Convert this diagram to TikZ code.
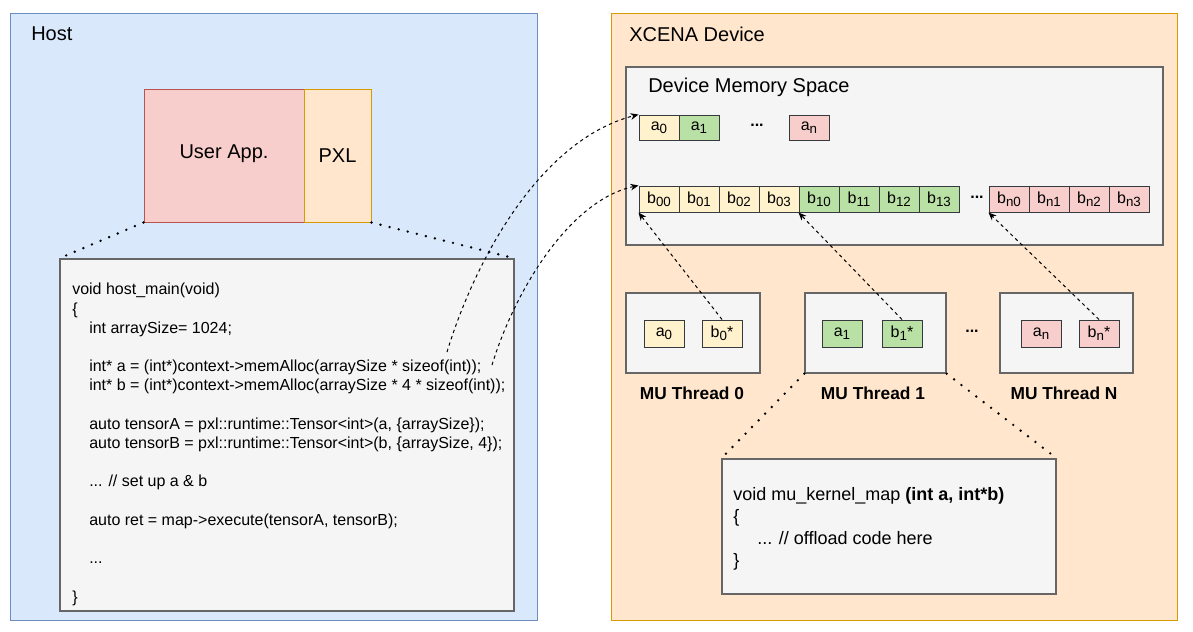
\documentclass[tikz,border=0pt]{standalone}
\usepackage{fontspec}
\setmainfont{Liberation Sans}
\usepackage{tikz}
\usetikzlibrary{arrows.meta}
\definecolor{hostfill}{HTML}{DAE8FC}
\definecolor{hostline}{HTML}{6C8EBF}
\definecolor{devfill}{HTML}{FFE6CC}
\definecolor{devline}{HTML}{D79B00}
\definecolor{appfill}{HTML}{F8CECC}
\definecolor{appline}{HTML}{B85450}
\definecolor{grayfill}{HTML}{F5F5F5}
\definecolor{grayline}{HTML}{666666}
\definecolor{cellyellow}{HTML}{FFF2CC}
\definecolor{cellgreen}{HTML}{B9E0A5}
\definecolor{cellred}{HTML}{F8CECC}
\definecolor{cellline}{HTML}{36393D}
\newcommand{\cellsub}[1]{\raisebox{-2.5pt}{\fontsize{10}{12}\selectfont #1}}
\tikzstyle{hostbox} = [draw=hostline, fill=hostfill, rectangle, line width=0.75pt]
\tikzstyle{devbox} = [draw=devline, fill=devfill, rectangle, line width=0.75pt]
\tikzstyle{appbox} = [draw=appline, fill=appfill, rectangle, line width=0.75pt]
\tikzstyle{graybox} = [draw=grayline, fill=grayfill, rectangle, line width=1pt]
\tikzstyle{cell} = [draw=cellline, rectangle, line width=0.75pt, minimum width=30pt, minimum height=19.5pt, inner sep=0pt, font=\fontsize{12}{14}\selectfont]
\tikzstyle{title} = [anchor=west, inner sep=0pt]
\tikzstyle{codetext} = [anchor=north west, inner sep=0pt, align=left, font=\fontsize{12}{14.4}\selectfont]
\tikzstyle{kerneltext} = [anchor=north west, inner sep=0pt, align=left, font=\fontsize{13.5}{16.5}\selectfont]
\tikzstyle{thrlabel} = [inner sep=0pt, font=\bfseries\fontsize{13}{15}\selectfont]
\tikzstyle{dots} = [inner sep=0pt, font=\bfseries\fontsize{12}{14}\selectfont]
\tikzstyle{dotline} = [line width=2pt, dash pattern=on 0pt off 7pt, line cap=round]
\tikzstyle{dashline} = [line width=0.75pt, dash pattern=on 2.5pt off 2.5pt, -{Stealth[length=6pt,width=5pt]}]

\begin{document}
\begin{tikzpicture}[x=0.75pt, y=0.75pt, font=\fontsize{15}{18}\selectfont]
    \useasboundingbox (0,0) rectangle (1193,-632);
    \node [hostbox, minimum width=395.25pt, minimum height=455.25pt] (host) at (273.5,-316.5) {};
    \node [devbox, minimum width=424.5pt, minimum height=455.25pt] (device) at (894,-316.5) {};
    \node [title] (hostlabel) at (31,-34) {Host};
    \node [title] (devlabel) at (629,-34) {XCENA Device};

    \node [appbox, minimum width=120pt, minimum height=99.75pt] (userapp) at (224,-155.5) {\raisebox{6.5pt}{User App.}};
    \node [devbox, minimum width=50.25pt, minimum height=99.75pt] (pxl) at (337.5,-155.5) {PXL};

    \node [graybox, minimum width=340.5pt, minimum height=264pt] (hostcode) at (287,-435) {};
    \node [codetext] (hosttext) at (72,-283) {%
        void host\_main(void)\\
        \{\\
        \hspace*{12.75pt}int arraySize= 1024;\\
        ~\\
        \hspace*{12.75pt}int* a = (int*)context->memAlloc(arraySize * sizeof(int));\\
        \hspace*{12.75pt}int* b = (int*)context->memAlloc(arraySize * 4 * sizeof(int));\\
        ~\\
        \hspace*{12.75pt}auto tensorA = pxl::runtime::Tensor<int>(a, \{arraySize\});\\
        \hspace*{12.75pt}auto tensorB = pxl::runtime::Tensor<int>(b, \{arraySize, 4\});\\
        ~\\
        \hspace*{12.75pt}... // set up a \& b\\
        ~\\
        \hspace*{12.75pt}auto ret = map->execute(tensorA, tensorB);\\
        ~\\
        \hspace*{12.75pt}...\\
        ~\\
        \}};

    \node [graybox, minimum width=402.75pt, minimum height=133.5pt] (devmem) at (894.5,-156) {};
    \node [title] (memlabel) at (648,-87) {Device Memory Space};

    \node [cell, fill=cellyellow, minimum height=18.75pt] (a0) at (659,-127.5) {a\cellsub{0}};
    \node [cell, fill=cellgreen, minimum height=18.75pt] (a1) at (699,-127.5) {a\cellsub{1}};
    \node [dots] (adots) at (757,-125) {...};
    \node [cell, fill=cellred, minimum height=18.75pt] (an) at (809,-127.5) {a\cellsub{n}};

    \node [cell, fill=cellyellow] (b00) at (659,-199) {b\cellsub{00}};
    \node [cell, fill=cellyellow] (b01) at (699,-199) {b\cellsub{01}};
    \node [cell, fill=cellyellow] (b02) at (739,-199) {b\cellsub{02}};
    \node [cell, fill=cellyellow] (b03) at (779,-199) {b\cellsub{03}};
    \node [cell, fill=cellgreen] (b10) at (819,-199) {b\cellsub{10}};
    \node [cell, fill=cellgreen] (b11) at (859,-199) {b\cellsub{11}};
    \node [cell, fill=cellgreen] (b12) at (899,-199) {b\cellsub{12}};
    \node [cell, fill=cellgreen] (b13) at (939,-199) {b\cellsub{13}};
    \node [dots] (bdots) at (977,-197) {...};
    \node [cell, fill=cellred] (bn0) at (1009,-199) {b\cellsub{n0}};
    \node [cell, fill=cellred] (bn1) at (1049,-199) {b\cellsub{n1}};
    \node [cell, fill=cellred] (bn2) at (1089,-199) {b\cellsub{n2}};
    \node [cell, fill=cellred] (bn3) at (1129,-199) {b\cellsub{n3}};

    \node [graybox, minimum width=100.5pt, minimum height=60pt] (thread0) at (693,-333) {};
    \node [graybox, minimum width=105.75pt, minimum height=60pt] (thread1) at (875.5,-333) {};
    \node [graybox, minimum width=99.75pt, minimum height=60pt] (threadN) at (1066.5,-333) {};
    \node [dots] (thrdots) at (972,-331) {...};

    \node [cell, fill=cellyellow, minimum height=20.25pt] (t0a) at (664,-333.5) {a\cellsub{0}};
    \node [cell, fill=cellyellow, minimum height=20.25pt] (t0b) at (722,-333.5) {b\cellsub{0}*};
    \node [cell, fill=cellgreen, minimum height=20.25pt] (t1a) at (842,-333.5) {a\cellsub{1}};
    \node [cell, fill=cellgreen, minimum height=20.25pt] (t1b) at (902,-333.5) {b\cellsub{1}*};
    \node [cell, fill=cellred, minimum height=20.25pt] (tna) at (1041,-333.5) {a\cellsub{n}};
    \node [cell, fill=cellred, minimum height=20.25pt] (tnb) at (1099,-333.5) {b\cellsub{n}*};

    \node [thrlabel] (thr0label) at (692,-393) {MU Thread 0};
    \node [thrlabel] (thr1label) at (873,-393) {MU Thread 1};
    \node [thrlabel] (thrNlabel) at (1064,-393) {MU Thread N};

    \node [graybox, minimum width=250.5pt, minimum height=101.25pt] (kernel) at (889,-526.5) {};
    \node [kerneltext] (kerneltext) at (733,-487) {%
        void mu\_kernel\_map \textbf{(int a, int*b)}\\
        \{\\
        \hspace*{18pt}... // offload code here\\
        \}};

    \draw [dotline] (userapp.south west) -- (hostcode.north west);
    \draw [dotline] (pxl.south east) -- (hostcode.north east);
    \draw [dotline] (thread1.south west) -- (kernel.north west);
    \draw [dotline] (thread1.south east) -- (kernel.north east);

    \draw [dashline] (t0b.north) -- (b00.south west);
    \draw [dashline] (t1b.north) -- (b10.south west);
    \draw [dashline] (tnb.north) -- (bn0.south west);

    \coordinate (srca) at (447,-352);
    \coordinate (srcb) at (492,-365);
    \draw [dashline] (srca) .. controls (475,-260) and (540,-140) .. (a0.north west);
    \draw [dashline] (srcb) .. controls (515,-290) and (570,-200) .. (b00.north west);
\end{tikzpicture}
\end{document}
